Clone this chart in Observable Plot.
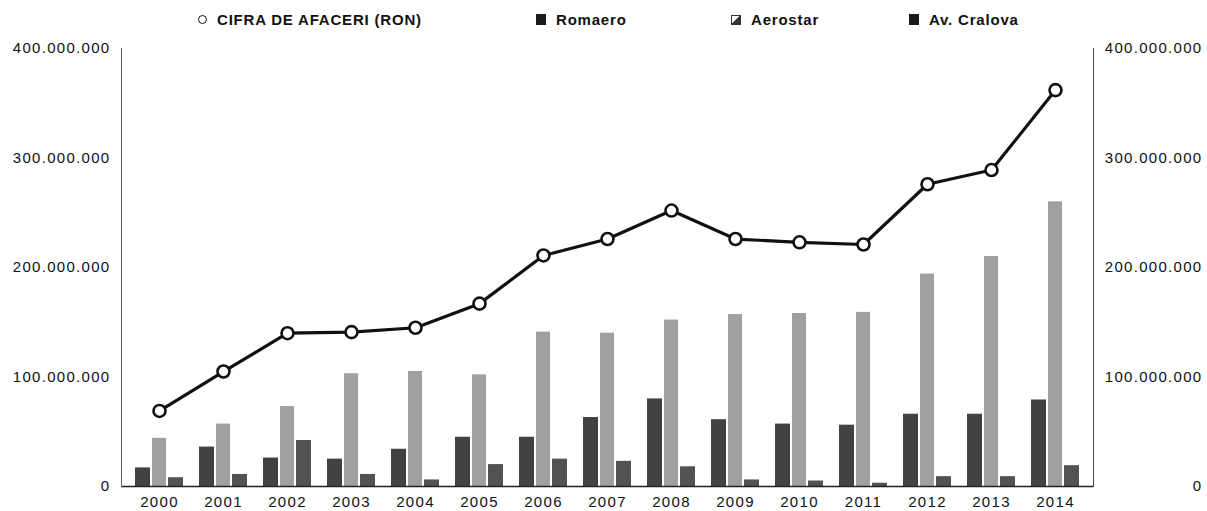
<!DOCTYPE html>
<html><head><meta charset="utf-8">
<script src="https://cdn.jsdelivr.net/npm/d3@7"></script>
<script src="https://cdn.jsdelivr.net/npm/@observablehq/plot@0.6"></script>
<style>
body{margin:0;background:#fff;font-family:"Liberation Sans",Arial,sans-serif;}
#legend{position:relative;height:40px;width:1207px;}
.item{position:absolute;top:11px;display:flex;align-items:center;font-size:15px;font-weight:bold;letter-spacing:0.8px;color:#111;white-space:nowrap;}
.sw{display:inline-block;margin-right:10px;box-sizing:border-box;}
.item:nth-child(1){left:198px;}
.item:nth-child(2){left:536px;}
.item:nth-child(3){left:731px;}
.item:nth-child(4){left:909px;}
#chart svg text{letter-spacing:1.3px;}
</style></head><body>
<div id="legend"></div><div id="chart"></div>
<script>
const years = ["2000","2001","2002","2003","2004","2005","2006","2007","2008","2009","2010","2011","2012","2013","2014"];
const cifraAfaceri = [69e6,105e6,140e6,141e6,145e6,167e6,211e6,226e6,252e6,226e6,223e6,221e6,276e6,289e6,362e6];
const romaero = [17e6,36e6,26e6,25e6,34e6,45e6,45e6,63e6,80e6,61e6,57e6,56e6,66e6,66e6,79e6];
const aerostar = [44e6,57e6,73e6,103e6,105e6,102e6,141e6,140e6,152e6,157e6,158e6,159e6,194e6,210e6,260e6];
const avCraiova = [8e6,11e6,42e6,11e6,6e6,20e6,25e6,23e6,18e6,6e6,5e6,3e6,9e6,9e6,19e6];
const yTicks = [0,100e6,200e6,300e6,400e6];
const seriesNames = ["CIFRA DE AFACERI (RON)","Romaero","Aerostar","Av. Cralova"];

const colors = {rom:"#424242", aer:"#a0a0a0", cra:"#525252"};
const fmt = v => d3.format(",")(v).replace(/,/g, ".");
const rows = arr => years.map((y,i) => ({year:y, v:arr[i]}));

// legend
const swatches = [
  'width:9px;height:9px;border-radius:50%;border:1.6px solid #111;background:#fff;',
  'width:10px;height:11px;background:#1a1a1a;',
  'width:10px;height:10px;background:linear-gradient(135deg,#fff 45%,#333 45%);border:1px solid #333;',
  'width:10px;height:11px;background:#1a1a1a;'
];
const lg = document.getElementById("legend");
seriesNames.forEach((n,i) => {
  const d = document.createElement("div");
  d.className = "item";
  d.innerHTML = `<span class="sw" style="${swatches[i]}"></span><span>${n}</span>`;
  lg.appendChild(d);
});

const chart = Plot.plot({
  width: 1207, height: 471,
  marginTop: 8, marginBottom: 25, marginLeft: 121, marginRight: 114,
  x: {type: "band", domain: years, padding: 0},
  y: {domain: [0, 400e6]},
  style: {fontFamily: '"Liberation Sans", Arial, sans-serif', fontSize: "15px", color: "#111", background: "#fff"},
  marks: [
    Plot.barY(rows(romaero), {x: "year", y: "v", fill: colors.rom, insetLeft: 8, insetRight: 41}),
    Plot.barY(rows(aerostar), {x: "year", y: "v", fill: colors.aer, insetLeft: 25, insetRight: 25}),
    Plot.barY(rows(avCraiova), {x: "year", y: "v", fill: colors.cra, insetLeft: 41, insetRight: 8}),
    Plot.ruleY([0], {stroke: "#222", strokeWidth: 1.5}),
    Plot.frame({anchor: "left", stroke: "#666"}),
    Plot.frame({anchor: "right", stroke: "#444"}),
    Plot.line(rows(cifraAfaceri), {x: "year", y: "v", stroke: "#111", strokeWidth: 3.2}),
    Plot.dot(rows(cifraAfaceri), {x: "year", y: "v", r: 6, fill: "#fff", stroke: "#111", strokeWidth: 2.6}),
    Plot.axisX({tickSize: 0, tickPadding: 10, label: null}),
    Plot.axisY(yTicks, {anchor: "left", tickSize: 0, tickPadding: 11, tickFormat: fmt, label: null}),
    Plot.text(yTicks, {y: d => d, text: fmt, frameAnchor: "right", textAnchor: "end", dx: 109, fill: "#111"})
  ]
});
document.getElementById("chart").appendChild(chart);
</script>
</body></html>
